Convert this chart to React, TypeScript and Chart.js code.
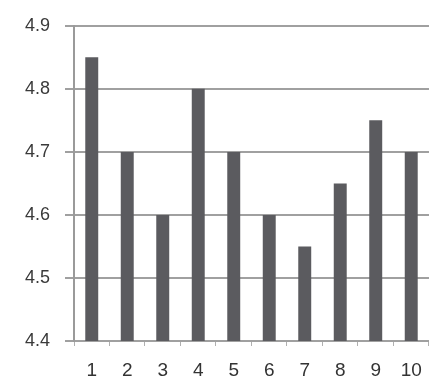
import React, { useEffect, useRef } from "react";
import { Chart, registerables } from "chart.js";

Chart.register(...registerables);

const categories = ["1", "2", "3", "4", "5", "6", "7", "8", "9", "10"];
const values = [4.85, 4.7, 4.6, 4.8, 4.7, 4.6, 4.55, 4.65, 4.75, 4.7];
const yTicks = [4.4, 4.5, 4.6, 4.7, 4.8, 4.9];

export default function App() {
  const ref = useRef<HTMLCanvasElement>(null);
  useEffect(() => {
    document.body.style.margin = "0";
    const chart = new Chart(ref.current!, {
      type: "bar",
      data: {
        labels: categories,
        datasets: [
          {
            data: values,
            backgroundColor: "#5b5b5f",
            borderWidth: 0,
            categoryPercentage: 1,
            barPercentage: 0.365,
          },
        ],
      },
      options: {
        animation: false,
        responsive: false,
        events: [],
        layout: { padding: { top: 25, right: 4, left: 0, bottom: 0 } },
        plugins: { legend: { display: false }, tooltip: { enabled: false } },
        scales: {
          x: {
            grid: {
              offset: true,
              drawOnChartArea: false,
              drawTicks: true,
              tickLength: 5,
              color: "#b0b0b0",
            },
            border: { display: false },
            ticks: {
              color: "#333",
              font: { family: "Liberation Sans", size: 19 },
              padding: 13,
              maxRotation: 0,
            },
            afterFit: (s: any) => {
              s.height = 44;
            },
          },
          y: {
            min: 4.4,
            max: 4.9,
            afterBuildTicks: (s: any) => {
              s.ticks = yTicks.map((v) => ({ value: v }));
            },
            grid: {
              color: "#a0a0a0",
              lineWidth: 2,
              tickLength: 9,
            },
            border: { display: true, color: "#9a9a9a", width: 2 },
            ticks: {
              color: "#3a3a3a",
              font: { family: "Liberation Sans", size: 18 },
              padding: 15,
              callback: (v: any) => Number(v).toFixed(1),
            },
            afterFit: (s: any) => {
              s.width = 74;
            },
          },
        },
      },
    });
    return () => chart.destroy();
  }, []);
  return (
    <div style={{ position: "absolute", left: 0, top: 0, width: 435, height: 385, background: "#fff" }}>
      <canvas ref={ref} width={435} height={385} />
    </div>
  );
}
